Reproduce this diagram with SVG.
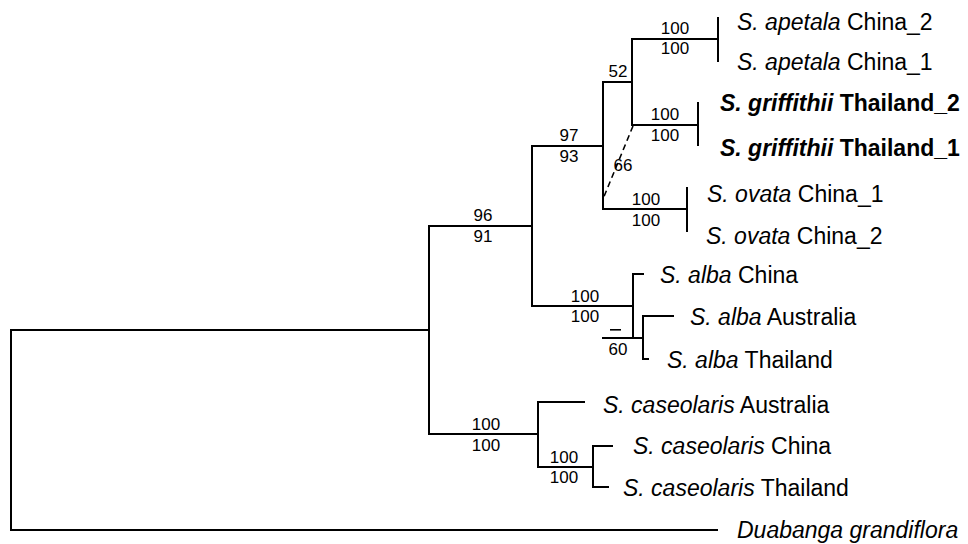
<svg xmlns="http://www.w3.org/2000/svg" width="968" height="544" viewBox="0 0 968 544">
<style>
.br{stroke:#000;stroke-width:2;fill:none;stroke-linecap:square}
.dash{stroke:#000;stroke-width:1.6;fill:none;stroke-dasharray:6,4}
.tx{font-family:"Liberation Sans",Arial,sans-serif;font-size:23px;fill:#000}
.sp{font-style:italic}
.bd{font-weight:bold}
.lb{font-family:"Liberation Sans",Arial,sans-serif;font-size:17px;fill:#000;text-anchor:middle}
</style>
<rect width="968" height="544" fill="#fff"/>
<g id="connectors">
<path class="br" d="M11,330V530M11,330H429M11,530H717"/>
<path class="br" d="M429,226V434M429,226H532M429,434H538"/>
<path class="br" d="M532,146V306M532,146H603M532,306H633"/>
<path class="br" d="M603,82V209M603,82H632M603,209H687"/>
<path class="br" d="M632,39V125M632,39H718M718,18V61M632,125H698M698,103V145"/>
<path class="br" d="M687,188V231"/>
<path class="dash" d="M633,126L603,199"/>
<path class="br" d="M633,274V338M633,274H643M603,338H643M643,316V359M643,316H673M643,359H648"/>
<path class="br" d="M538,402V467M538,402H584M538,467H593M593,446V487M593,446H612M593,487H608"/>
</g>
<g id="labels">
<text class="lb" x="675" y="34">100</text><text class="lb" x="675" y="54">100</text>
<text class="lb" x="665" y="120">100</text><text class="lb" x="665" y="141">100</text>
<text class="lb" x="618" y="77">52</text>
<text class="lb" x="623" y="171">66</text>
<text class="lb" x="569" y="141">97</text><text class="lb" x="569" y="162">93</text>
<text class="lb" x="646" y="205">100</text><text class="lb" x="646" y="226">100</text>
<text class="lb" x="483" y="221">96</text><text class="lb" x="483" y="242">91</text>
<text class="lb" x="585" y="302">100</text><text class="lb" x="585" y="322">100</text>
<rect x="610" y="329" width="11" height="1.6" fill="#000"/><text class="lb" x="618" y="355">60</text>
<text class="lb" x="486" y="430">100</text><text class="lb" x="486" y="451">100</text>
<text class="lb" x="564" y="463">100</text><text class="lb" x="564" y="483">100</text>
</g>
<g id="n-apetala2"><text class="tx" x="737" y="30"><tspan class="sp">S. apetala</tspan> China_2</text></g>
<g id="n-apetala1"><text class="tx" x="737" y="70"><tspan class="sp">S. apetala</tspan> China_1</text></g>
<g id="n-griffithii2"><text class="tx bd" x="720" y="111"><tspan class="sp">S. griffithii</tspan> Thailand_2</text></g>
<g id="n-griffithii1"><text class="tx bd" x="720" y="156"><tspan class="sp">S. griffithii</tspan> Thailand_1</text></g>
<g id="n-ovata1"><text class="tx" x="707" y="202"><tspan class="sp">S. ovata</tspan> China_1</text></g>
<g id="n-ovata2"><text class="tx" x="706" y="244"><tspan class="sp">S. ovata</tspan> China_2</text></g>
<g id="n-alba-china"><text class="tx" x="660" y="283"><tspan class="sp">S. alba</tspan> China</text></g>
<g id="n-alba-australia"><text class="tx" x="690" y="325"><tspan class="sp">S. alba</tspan> Australia</text></g>
<g id="n-alba-thailand"><text class="tx" x="667" y="368"><tspan class="sp">S. alba</tspan> Thailand</text></g>
<g id="n-caseolaris-australia"><text class="tx" x="603" y="413"><tspan class="sp">S. caseolaris</tspan> Australia</text></g>
<g id="n-caseolaris-china"><text class="tx" x="633" y="454"><tspan class="sp">S. caseolaris</tspan> China</text></g>
<g id="n-caseolaris-thailand"><text class="tx" x="623" y="496"><tspan class="sp">S. caseolaris</tspan> Thailand</text></g>
<g id="n-duabanga"><text class="tx sp" x="737" y="538">Duabanga grandiflora</text></g>
</svg>
